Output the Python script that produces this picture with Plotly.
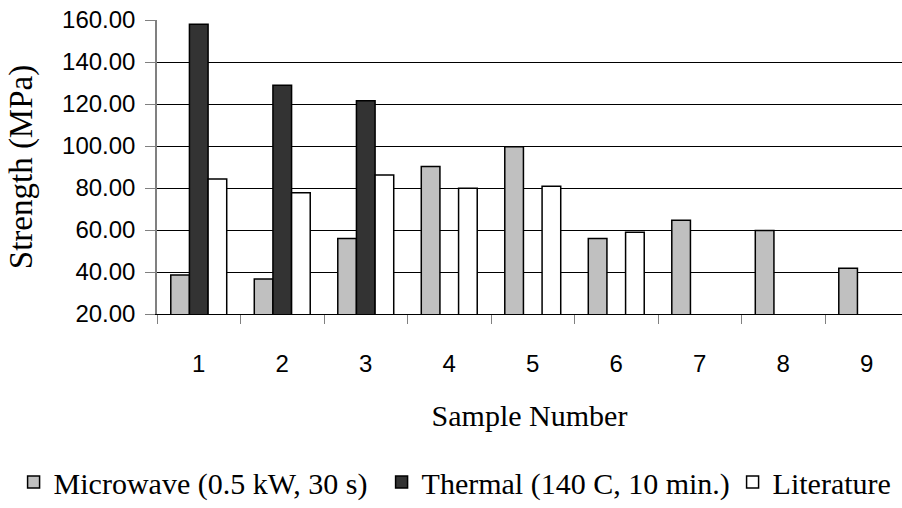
import plotly.graph_objects as go

samples = ["1", "2", "3", "4", "5", "6", "7", "8", "9"]
microwave = [38.6, 36.7, 55.9, 90.2, 99.7, 56.0, 64.6, 59.8, 41.8]
thermal = [158.0, 128.9, 121.5, None, None, None, None, None, None]
literature = [84.3, 77.7, 86.2, 79.9, 80.8, 58.9, None, None, None]

y_ticks = [20, 40, 60, 80, 100, 120, 140, 160]

serif = "Liberation Serif, Times New Roman, serif"
sans = "Liberation Sans, Arial, sans-serif"

fig = go.Figure()
fig.add_trace(go.Bar(x=samples, y=microwave, name="Microwave (0.5 kW, 30 s)", legendwidth=323,
                     marker=dict(color="#C0C0C0", line=dict(color="black", width=1.5))))
fig.add_trace(go.Bar(x=samples, y=thermal, name="Thermal (140 C, 10 min.)", legendwidth=306,
                     marker=dict(color="#333333", line=dict(color="black", width=1.5))))
fig.add_trace(go.Bar(x=samples, y=literature, name="Literature", legendwidth=120,
                     marker=dict(color="#FFFFFF", line=dict(color="black", width=1.5))))

fig.update_layout(
    width=902, height=508,
    margin=dict(l=157, r=0, t=20, b=192),
    paper_bgcolor="white", plot_bgcolor="white",
    barmode="group", bargap=0.33, bargroupgap=0,
    showlegend=True,
    legend=dict(orientation="h", x=-0.1925, xanchor="left", y=-0.572, yanchor="middle",
                font=dict(family=serif, size=30, color="black"),
                itemclick=False, itemdoubleclick=False),
    xaxis=dict(
        type="category", range=[-0.5, 8.422], automargin=False,
        tickson="boundaries", ticks="outside", ticklen=9, tickcolor="#808080",
        showgrid=False, showline=True, linecolor="black", linewidth=1,
        ticklabelstandoff=28,
        tickfont=dict(family=sans, size=24, color="black"),
        title=dict(text="Sample Number", font=dict(family=serif, size=30, color="black"), standoff=29),
    ),
    yaxis=dict(
        range=[20, 160], tickvals=y_ticks, tickformat=".2f", automargin=False,
        ticks="outside", ticklen=10, tickcolor="#808080",
        showline=True, linecolor="#808080", linewidth=1.5,
        showgrid=True, gridcolor="black", gridwidth=1,
        zeroline=False, ticklabelstandoff=5,
        tickfont=dict(family=sans, size=24, color="black"),
        title=dict(text="Strength (MPa)", font=dict(family=serif, size=33, color="black"), standoff=19),
    ),
)

fig.write_html("out.html")
